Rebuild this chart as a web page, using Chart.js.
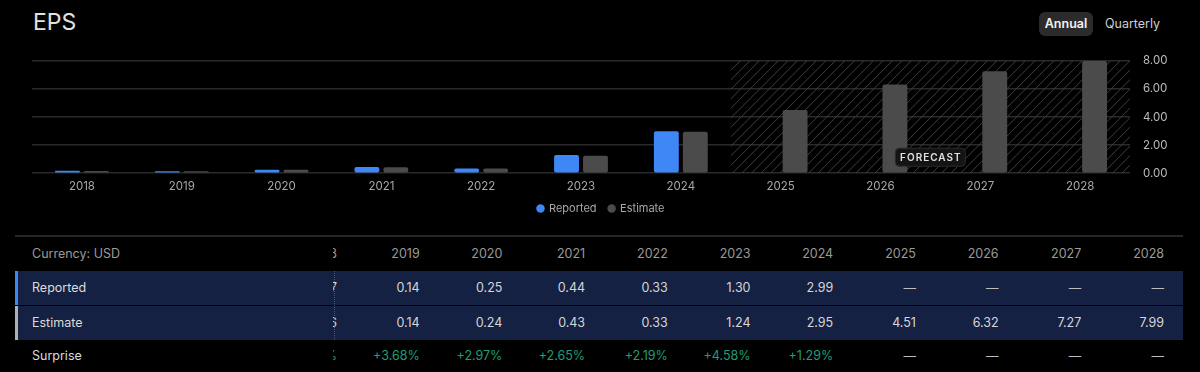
<!DOCTYPE html>
<html>
<head>
    <title>EPS</title>
    <script src="https://cdn.jsdelivr.net/npm/chart.js@4.4.0/dist/chart.umd.min.js"></script>
    <style>
        body {
            margin: 0;
            width: 1200px;
            height: 372px;
            background: #000;
            font-family: Inter, "Noto Sans", Arial, sans-serif;
            overflow: hidden;
            position: relative;
        }
        #title { position: absolute; left: 33px; top: 8px; font-size: 23px; color: #e2e2e2; }
        .toggle { position: absolute; top: 12px; height: 24px; line-height: 24px; font-size: 12.5px; }
        #annual { left: 1039px; width: 54px; text-align: center; background: #2b2b2e; border-radius: 6px; color: #f2f2f2; font-weight: 600; }
        #quarterly { left: 1105px; color: #cfcfcf; }
        .chart-box { position: absolute; left: 32px; top: 41px; width: 1138px; height: 183px; }
        #sep { position: absolute; left: 15px; width: 1168px; top: 235px; height: 2px; background: #262626; }
        .row { position: absolute; left: 15px; width: 1168px; height: 34px; }
        .row .lab { position: absolute; left: 17px; top: 0; line-height: 34px; font-size: 12.5px; color: #dcdcdc; }
        .row.hl { background: #152142; }
        .row .strip { position: absolute; left: 0; top: 0; width: 3px; height: 100%; }
        .cells { position: absolute; left: 318px; top: 0; width: 850px; height: 100%; overflow: hidden; }
        .cell { position: absolute; top: 0; width: 80px; text-align: right; line-height: 34px; font-size: 12.5px; }
        #dots { position: absolute; left: 334px; top: 271px; height: 69px; border-left: 1px dotted #555; }
    </style>
</head>
<body>
    <div id="title">EPS</div>
    <div class="toggle" id="annual">Annual</div>
    <div class="toggle" id="quarterly">Quarterly</div>
    <div class="chart-box"><canvas id="epsChart"></canvas></div>
    <div id="sep"></div>
    <div id="table"></div>
    <div id="dots"></div>

    <script>
        const years = ['2018', '2019', '2020', '2021', '2022', '2023', '2024', '2025', '2026', '2027', '2028'];
        const reported = [0.17, 0.14, 0.25, 0.44, 0.33, 1.30, 2.99, null, null, null, null];
        const estimate = [0.16, 0.14, 0.24, 0.43, 0.33, 1.24, 2.95, 4.51, 6.32, 7.27, 7.99];
        const surprise = ['+6.25%', '+3.68%', '+2.97%', '+2.65%', '+2.19%', '+4.58%', '+1.29%', null, null, null, null];
        const yTicks = [0, 2, 4, 6, 8];
        const forecastFrom = 7; // index of first forecast year

        const blue = '#3f86f6';
        const grey = '#4b4b4b';

        // hatched forecast area + label
        const forecastPlugin = {
            id: 'forecast',
            beforeDatasetsDraw(chart) {
                const { ctx, chartArea, scales } = chart;
                const x0 = scales.x.getPixelForValue(forecastFrom - 0.5);
                const x1 = chartArea.right;
                const top = chartArea.top, bottom = chartArea.bottom;
                const h = bottom - top;
                ctx.save();
                ctx.beginPath();
                ctx.rect(x0, top, x1 - x0, h);
                ctx.clip();
                ctx.strokeStyle = '#3e3e3e';
                ctx.lineWidth = 1;
                ctx.beginPath();
                for (let x = x0 - h; x < x1; x += 9.5) {
                    ctx.moveTo(x, bottom);
                    ctx.lineTo(x + h, top);
                }
                ctx.stroke();
                ctx.restore();
            },
            afterDatasetsDraw(chart) {
                const { ctx, chartArea, scales } = chart;
                const x0 = scales.x.getPixelForValue(forecastFrom - 0.5);
                const cx = (x0 + chartArea.right) / 2;
                const cy = chartArea.bottom - 16;
                ctx.save();
                ctx.fillStyle = '#141414';
                ctx.strokeStyle = '#2c2c2c';
                ctx.beginPath();
                ctx.roundRect(cx - 35, cy - 9, 70, 18, 4);
                ctx.fill();
                ctx.stroke();
                ctx.font = '600 10px Inter, sans-serif';
                ctx.letterSpacing = '1px';
                ctx.fillStyle = '#e0e0e0';
                ctx.textAlign = 'center';
                ctx.textBaseline = 'middle';
                ctx.fillText('FORECAST', cx + 0.5, cy + 0.5);
                ctx.restore();
            }
        };

        try {
            new Chart(document.getElementById('epsChart'), {
                type: 'bar',
                data: {
                    labels: years,
                    datasets: [
                        { label: 'Reported', data: reported, backgroundColor: blue, borderRadius: 2, borderSkipped: false },
                        { label: 'Estimate', data: estimate, backgroundColor: grey, borderRadius: 2, borderSkipped: false }
                    ]
                },
                options: {
                    responsive: true,
                    maintainAspectRatio: false,
                    animation: false,
                    categoryPercentage: 0.58,
                    barPercentage: 0.86,
                    layout: { padding: { top: 8 } },
                    scales: {
                        x: {
                            afterFit: axis => { axis.height = axis.height - 8; },
                            grid: { display: false, drawTicks: false },
                            border: { display: false },
                            ticks: { color: '#a8a8a8', font: { size: 11.5, family: 'Inter' }, padding: 6 }
                        },
                        y: {
                            position: 'right',
                            min: 0,
                            max: 8,
                            afterBuildTicks: axis => { axis.ticks = yTicks.map(v => ({ value: v })); },
                            afterFit: axis => { axis.width = 40; },
                            grid: { color: '#2a2a2a', lineWidth: 1.5, drawTicks: false },
                            border: { display: false },
                            ticks: { color: '#bdbdbd', font: { size: 11.5, family: 'Inter' }, padding: 13,
                                callback: v => v.toFixed(2) }
                        }
                    },
                    plugins: {
                        legend: {
                            position: 'bottom',
                            labels: { usePointStyle: true, pointStyle: 'circle', boxWidth: 6, boxHeight: 6,
                                color: '#a8a8a8', font: { size: 11, family: 'Inter' }, padding: 12 }
                        },
                        tooltip: { enabled: false }
                    }
                },
                plugins: [forecastPlugin]
            });

            // table below the chart
            const fmt = v => v === null ? '\u2014' : v.toFixed(2);
            const rows = [
                { top: 237, label: 'Currency: USD', vals: years, color: '#9a9a9a', labColor: '#9a9a9a' },
                { top: 271, label: 'Reported', vals: reported.map(fmt), color: '#d6d6d6', hl: true, strip: blue },
                { top: 306, label: 'Estimate', vals: estimate.map(fmt), color: '#d6d6d6', hl: true, strip: '#b0b0b0' },
                { top: 339, label: 'Surprise', vals: surprise.map(s => s === null ? '\u2014' : s), color: '#1f9e76' }
            ];
            const table = document.getElementById('table');
            rows.forEach(r => {
                const row = document.createElement('div');
                row.className = 'row' + (r.hl ? ' hl' : '');
                row.style.top = r.top + 'px';
                if (r.strip) {
                    const s = document.createElement('div');
                    s.className = 'strip';
                    s.style.background = r.strip;
                    row.appendChild(s);
                }
                const lab = document.createElement('div');
                lab.className = 'lab';
                lab.textContent = r.label;
                if (r.labColor) lab.style.color = r.labColor;
                row.appendChild(lab);
                const cells = document.createElement('div');
                cells.className = 'cells';
                r.vals.forEach((v, i) => {
                    const c = document.createElement('div');
                    c.className = 'cell';
                    c.textContent = v;
                    c.style.left = (-76 + i * 82.7) + 'px';
                    c.style.color = (v === '\u2014') ? '#bdbdbd' : r.color;
                    cells.appendChild(c);
                });
                row.appendChild(cells);
                table.appendChild(row);
            });
        } catch (error) {
            console.error('Error rendering chart:', error);
        }
    </script>
</body>
</html>
